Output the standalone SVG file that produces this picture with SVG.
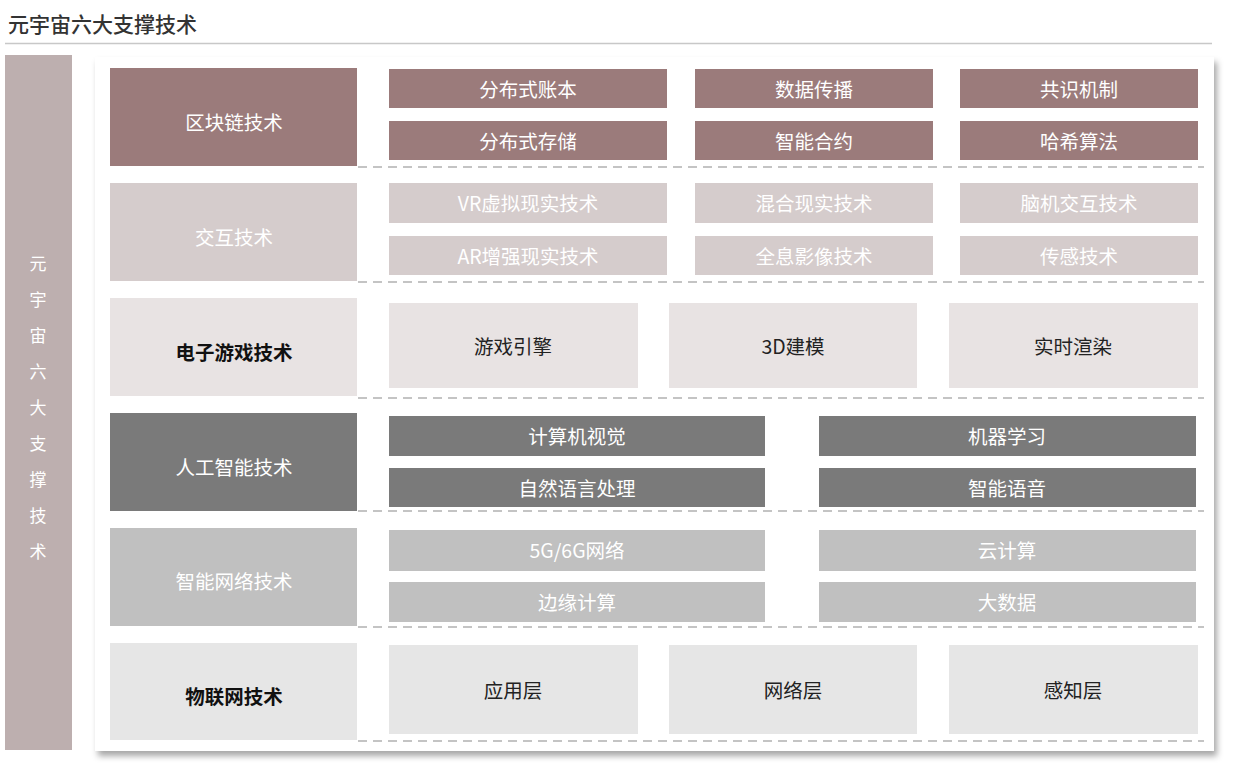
<svg xmlns="http://www.w3.org/2000/svg" width="1236" height="774" viewBox="0 0 1236 774">
<defs>
<filter id="sh" x="-5%" y="-5%" width="110%" height="112%">
<feDropShadow dx="3" dy="5" stdDeviation="3" flood-color="#000" flood-opacity="0.35"/>
</filter>
<style>
text{font-family:"Noto Sans CJK SC","Noto Sans",sans-serif;font-size:19.5px;text-anchor:middle;dominant-baseline:central}
.w{fill:#ffffff}
.s{font-size:17px}
.k{fill:#222222}
.kb{fill:#111111;font-weight:bold}
.r1{fill:#9b7b7b}
.r2{fill:#d5cccc}
.r3{fill:#e8e3e3}
.r4{fill:#7a7a7a}
.r5{fill:#c0c0c0}
.r6{fill:#e6e6e6}
.dash{stroke:#c4c4c4;stroke-width:2;stroke-dasharray:9 6;fill:none}
</style>
</defs>
<rect width="1236" height="774" fill="#ffffff"/>
<text x="8" y="23" style="text-anchor:start;font-size:21px;fill:#333;font-weight:500">元宇宙六大支撑技术</text>
<line x1="5" y1="43.5" x2="1212" y2="43.5" stroke="#c8c8c8" stroke-width="1.5"/>

<g id="side">
<rect x="5" y="55" width="67" height="695" fill="#bdafaf"/>
<text x="38" y="262" class="w s">元</text>
<text x="38" y="298" class="w s">宇</text>
<text x="38" y="334" class="w s">宙</text>
<text x="38" y="370" class="w s">六</text>
<text x="38" y="406" class="w s">大</text>
<text x="38" y="442" class="w s">支</text>
<text x="38" y="478" class="w s">撑</text>
<text x="38" y="514" class="w s">技</text>
<text x="38" y="550" class="w s">术</text>
</g>

<rect x="95" y="57" width="1119" height="694" fill="#ffffff" filter="url(#sh)"/>

<g id="connectors">
<line x1="358" y1="167" x2="1204" y2="167" class="dash"/>
<line x1="358" y1="282" x2="1204" y2="282" class="dash"/>
<line x1="358" y1="398" x2="1204" y2="398" class="dash"/>
<line x1="358" y1="511" x2="1204" y2="511" class="dash"/>
<line x1="358" y1="627" x2="1204" y2="627" class="dash"/>
<line x1="358" y1="741" x2="1204" y2="741" class="dash"/>
</g>

<g id="row1">
<rect x="110" y="68" width="247" height="98" class="r1"/>
<text x="234" y="121" class="w">区块链技术</text>
<rect x="389" y="69" width="278" height="39" class="r1"/>
<text x="528" y="88" class="w">分布式账本</text>
<rect x="695" y="69" width="238" height="39" class="r1"/>
<text x="814" y="88" class="w">数据传播</text>
<rect x="960" y="69" width="238" height="39" class="r1"/>
<text x="1079" y="88" class="w">共识机制</text>
<rect x="389" y="121" width="278" height="39" class="r1"/>
<text x="528" y="140" class="w">分布式存储</text>
<rect x="695" y="121" width="238" height="39" class="r1"/>
<text x="814" y="140" class="w">智能合约</text>
<rect x="960" y="121" width="238" height="39" class="r1"/>
<text x="1079" y="140" class="w">哈希算法</text>
</g>

<g id="row2">
<rect x="110" y="183" width="247" height="98" class="r2"/>
<text x="234" y="236" class="w">交互技术</text>
<rect x="389" y="183" width="278" height="40" class="r2"/>
<text x="528" y="202" class="w">VR虚拟现实技术</text>
<rect x="695" y="183" width="238" height="40" class="r2"/>
<text x="814" y="202" class="w">混合现实技术</text>
<rect x="960" y="183" width="238" height="40" class="r2"/>
<text x="1079" y="202" class="w">脑机交互技术</text>
<rect x="389" y="236" width="278" height="39" class="r2"/>
<text x="528" y="255" class="w">AR增强现实技术</text>
<rect x="695" y="236" width="238" height="39" class="r2"/>
<text x="814" y="255" class="w">全息影像技术</text>
<rect x="960" y="236" width="238" height="39" class="r2"/>
<text x="1079" y="255" class="w">传感技术</text>
</g>

<g id="row3">
<rect x="110" y="298" width="247" height="98" class="r3"/>
<text x="234" y="351" class="kb">电子游戏技术</text>
<rect x="389" y="303" width="249" height="85" class="r3"/>
<text x="513" y="345" class="k">游戏引擎</text>
<rect x="669" y="303" width="248" height="85" class="r3"/>
<text x="793" y="345" class="k">3D建模</text>
<rect x="949" y="303" width="249" height="85" class="r3"/>
<text x="1073" y="345" class="k">实时渲染</text>
</g>

<g id="row4">
<rect x="110" y="413" width="247" height="98" class="r4"/>
<text x="234" y="466" class="w">人工智能技术</text>
<rect x="389" y="416" width="376" height="40" class="r4"/>
<text x="577" y="435" class="w">计算机视觉</text>
<rect x="819" y="416" width="377" height="40" class="r4"/>
<text x="1007" y="435" class="w">机器学习</text>
<rect x="389" y="468" width="376" height="39" class="r4"/>
<text x="577" y="487" class="w">自然语言处理</text>
<rect x="819" y="468" width="377" height="39" class="r4"/>
<text x="1007" y="487" class="w">智能语音</text>
</g>

<g id="row5">
<rect x="110" y="528" width="247" height="98" class="r5"/>
<text x="234" y="580" class="w">智能网络技术</text>
<rect x="389" y="530" width="376" height="41" class="r5"/>
<text x="577" y="549" class="w">5G/6G网络</text>
<rect x="819" y="530" width="377" height="41" class="r5"/>
<text x="1007" y="549" class="w">云计算</text>
<rect x="389" y="582" width="376" height="40" class="r5"/>
<text x="577" y="601" class="w">边缘计算</text>
<rect x="819" y="582" width="377" height="40" class="r5"/>
<text x="1007" y="601" class="w">大数据</text>
</g>

<g id="row6">
<rect x="110" y="643" width="247" height="97" class="r6"/>
<text x="234" y="695" class="kb">物联网技术</text>
<rect x="389" y="645" width="249" height="89" class="r6"/>
<text x="513" y="689" class="k">应用层</text>
<rect x="669" y="645" width="248" height="89" class="r6"/>
<text x="793" y="689" class="k">网络层</text>
<rect x="949" y="645" width="249" height="89" class="r6"/>
<text x="1073" y="689" class="k">感知层</text>
</g>
</svg>
